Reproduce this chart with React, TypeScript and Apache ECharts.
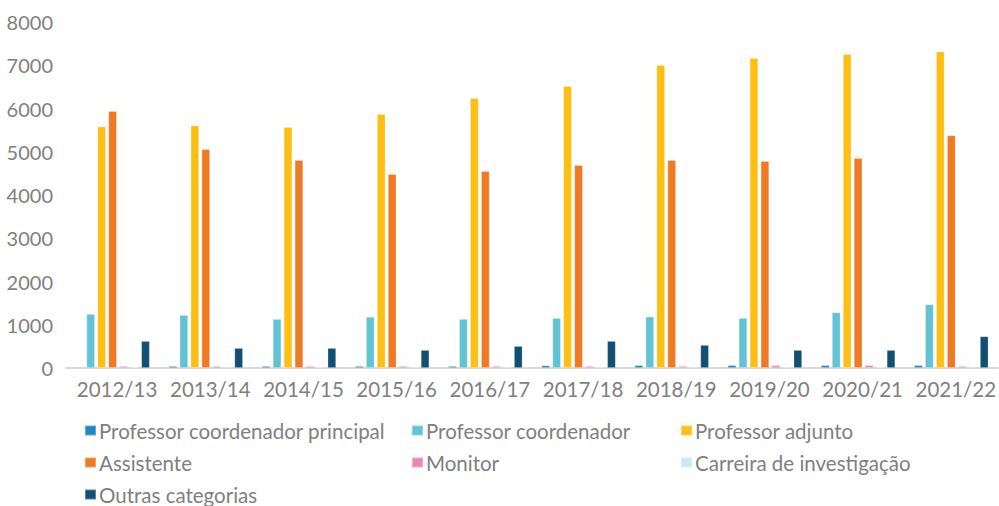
import React, { useEffect, useRef } from "react";
import * as echarts from "echarts";

const categories = ["2012/13", "2013/14", "2014/15", "2015/16", "2016/17", "2017/18", "2018/19", "2019/20", "2020/21", "2021/22"];
const seriesNames = [
  "Professor coordenador principal",
  "Professor coordenador",
  "Professor adjunto",
  "Assistente",
  "Monitor",
  "Carreira de investigação",
  "Outras categorias",
];
const principal = [15, 45, 45, 45, 45, 60, 65, 65, 65, 65];
const coordenador = [1249, 1225, 1133, 1183, 1133, 1156, 1187, 1156, 1287, 1472];
const adjunto = [5580, 5605, 5572, 5873, 6243, 6520, 7006, 7168, 7256, 7313];
const assistente = [5942, 5064, 4809, 4486, 4555, 4694, 4809, 4786, 4855, 5380];
const monitor = [45, 45, 45, 45, 45, 45, 45, 65, 65, 45];
const carreira = [10, 10, 10, 10, 10, 10, 10, 10, 10, 10];
const outras = [624, 462, 462, 416, 508, 624, 532, 416, 416, 732];
const yTicks = [0, 1000, 2000, 3000, 4000, 5000, 6000, 7000, 8000];

const colors = ["#2186C6", "#62C3D5", "#FDBF13", "#F07A23", "#E688B1", "#C9E9F1", "#114F73"];
const allData = [principal, coordenador, adjunto, assistente, monitor, carreira, outras];

const FONT = "Lato";
const legendPos = [
  { left: 84, top: 420 },
  { left: 411, top: 420 },
  { left: 680, top: 420 },
  { left: 84, top: 452 },
  { left: 411, top: 452 },
  { left: 680, top: 452 },
  { left: 84, top: 484 },
];

export default function App() {
  const ref = useRef<HTMLDivElement>(null);
  useEffect(() => {
    const chart = echarts.init(ref.current!, null, { renderer: "svg" });
    chart.setOption({
      animation: false,
      color: colors,
      grid: { left: 66, top: 22, width: 934, height: 346, containLabel: false },
      legend: seriesNames.map((n, i) => ({
        data: [n],
        left: legendPos[i].left,
        top: legendPos[i].top,
        icon: "rect",
        itemWidth: 11,
        itemHeight: 10,
        padding: 0,
        textStyle: { fontFamily: FONT, fontSize: 20.5, color: "#7F7F7F", padding: [0, 0, 0, -2] },
      })),
      xAxis: {
        type: "category",
        data: categories,
        axisLine: { lineStyle: { color: "#D9D9D9", width: 2 } },
        axisTick: { show: false },
        axisLabel: { interval: 0, fontFamily: FONT, fontSize: 20.5, color: "#7F7F7F", margin: 10, padding: [0, 0, 0, 9] },
      },
      yAxis: {
        type: "value",
        min: yTicks[0],
        max: yTicks[yTicks.length - 1],
        interval: 1000,
        splitLine: { show: false },
        axisLine: { show: false },
        axisTick: { show: false },
        axisLabel: { fontFamily: FONT, fontSize: 20, color: "#7F7F7F", margin: 13, formatter: (v: number) => String(v) },
      },
      series: seriesNames.map((n, i) => ({
        name: n,
        type: "bar",
        data: allData[i],
        barWidth: 8.5,
        barGap: "29%",
        barMinHeight: 1,
        itemStyle: { color: colors[i], borderColor: "rgba(255,255,255,0.3)", borderWidth: 0.8 },
      })),
    });
    return () => chart.dispose();
  }, []);
  return <div ref={ref} style={{ position: "absolute", left: 0, top: 0, width: 999, height: 506 }} />;
}
